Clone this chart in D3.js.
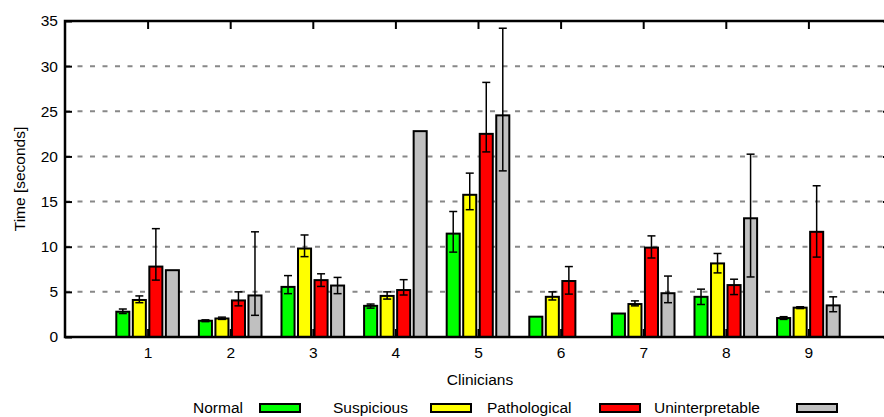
<!DOCTYPE html>
<html>
<head>
<meta charset="utf-8">
<script src="https://cdn.jsdelivr.net/npm/d3@7"></script>
<style>
  html, body { margin: 0; padding: 0; background: #fff; }
  svg { display: block; font-family: "Liberation Sans", Arial, sans-serif; }
</style>
</head>
<body>
<div id="chart"></div>
<script>
// Plot constants
const WIDTH = 884;
const HEIGHT = 417;
const FONT = "15.5px";

// Data
const clinicians = ["1", "2", "3", "4", "5", "6", "7", "8", "9"];
const categories = ["Normal", "Suspicious", "Pathological", "Uninterpretable"];
const colors = ["#00ff00", "#ffff00", "#ff0000", "#c0c0c0"];
const yTicks = [0, 5, 10, 15, 20, 25, 30, 35];

// mean time per clinician (null = no bar)
const normalMean = [2.8, 1.8, 5.55, 3.45, 11.45, 2.25, 2.6, 4.45, 2.1];
const suspiciousMean = [4.1, 2.05, 9.8, 4.55, 15.75, 4.45, 3.65, 8.15, 3.25];
const pathologicalMean = [7.8, 4.05, 6.3, 5.2, 22.5, 6.2, 9.9, 5.75, 11.65];
const uninterpretableMean = [7.4, 4.6, 5.7, 22.8, 24.55, null, 4.85, 13.15, 3.5];

// error bar ends (null = no error bar)
const normalLow = [2.6, 1.7, 4.8, 3.2, 9.4, null, null, 3.6, 1.95];
const normalHigh = [3.1, 1.9, 6.8, 3.65, 13.9, null, null, 5.3, 2.25];
const suspiciousLow = [3.8, 1.95, 8.9, 4.2, 14.1, 4.1, 3.45, 7.1, 3.15];
const suspiciousHigh = [4.55, 2.2, 11.3, 5.0, 18.15, 5.0, 4.0, 9.25, 3.35];
const pathologicalLow = [6.3, 3.45, 5.6, 4.65, 20.5, 4.75, 8.75, 4.7, 8.85];
const pathologicalHigh = [12.0, 5.0, 7.0, 6.35, 28.2, 7.8, 11.2, 6.4, 16.75];
const uninterpretableLow = [null, 2.4, 4.8, null, 18.4, null, 3.8, 6.65, 2.8];
const uninterpretableHigh = [null, 11.65, 6.6, null, 34.2, null, 6.75, 20.25, 4.45];

const means = [normalMean, suspiciousMean, pathologicalMean, uninterpretableMean];
const lows = [normalLow, suspiciousLow, pathologicalLow, uninterpretableLow];
const highs = [normalHigh, suspiciousHigh, pathologicalHigh, uninterpretableHigh];

// flat table of bars
const bars = [];
categories.forEach((cat, k) => {
  clinicians.forEach((c, i) => {
    if (means[k][i] === null) return;
    bars.push({
      k: k,
      pos: i + 1,
      value: means[k][i],
      low: lows[k][i],
      high: highs[k][i],
    });
  });
});

const mLeft = 65, mRight = 891, mTop = 21, mBottom = 337;
const barOffsets = [-0.3, -0.1, 0.1, 0.3];
const barWidth = 0.158;

const svg = d3.select("#chart").append("svg")
  .attr("width", WIDTH)
  .attr("height", HEIGHT);

svg.append("rect").attr("width", WIDTH).attr("height", HEIGHT).attr("fill", "#fff");

const x = d3.scaleLinear().domain([0, 10]).range([mLeft, mRight]);
const y = d3.scaleLinear().domain([0, 35]).range([mBottom, mTop]);

// grid lines
const grid = svg.append("g");
grid.selectAll("line")
  .data(yTicks.filter((d) => d > 0 && d < 35))
  .join("line")
  .attr("x1", mLeft)
  .attr("x2", mRight)
  .attr("y1", (d) => y(d))
  .attr("y2", (d) => y(d))
  .attr("stroke", "#888")
  .attr("stroke-width", 2)
  .attr("stroke-dasharray", "5,7.5");

// bottom axis (ticks point inwards, hidden behind bars)
const xAxis = svg.append("g")
  .attr("transform", `translate(0,${mBottom})`)
  .call(d3.axisBottom(x)
    .tickValues(clinicians.map((c, i) => i + 1))
    .tickFormat((d) => clinicians[d - 1])
    .tickSizeInner(-8)
    .tickSizeOuter(0)
    .tickPadding(10));

// bars
svg.append("g")
  .selectAll("rect")
  .data(bars)
  .join("rect")
  .attr("x", (d) => x(d.pos + barOffsets[d.k] - barWidth / 2))
  .attr("width", x(barWidth) - x(0))
  .attr("y", (d) => y(d.value))
  .attr("height", (d) => y(0) - y(d.value))
  .attr("fill", (d) => colors[d.k])
  .attr("stroke", "#000")
  .attr("stroke-width", 2);

// error bars
const errs = svg.append("g")
  .attr("stroke", "#000")
  .attr("stroke-width", 1.5)
  .selectAll("g")
  .data(bars.filter((d) => d.low !== null))
  .join("g");

errs.append("line")
  .attr("x1", (d) => x(d.pos + barOffsets[d.k]))
  .attr("x2", (d) => x(d.pos + barOffsets[d.k]))
  .attr("y1", (d) => y(d.low))
  .attr("y2", (d) => y(d.high));

errs.selectAll(".cap")
  .data((d) => [d.low, d.high].map((v) => ({ pos: d.pos + barOffsets[d.k], v: v })))
  .join("line")
  .attr("class", "cap")
  .attr("x1", (d) => x(d.pos) - 4)
  .attr("x2", (d) => x(d.pos) + 4)
  .attr("y1", (d) => y(d.v))
  .attr("y2", (d) => y(d.v));

// left axis with labels
const yAxis = svg.append("g")
  .attr("transform", `translate(${mLeft},0)`)
  .call(d3.axisLeft(y).tickValues(yTicks).tickSizeInner(-7).tickSizeOuter(0).tickPadding(7));

// mirrored ticks on top and right
const topAxis = svg.append("g")
  .attr("transform", `translate(0,${mTop})`)
  .call(d3.axisTop(x).tickValues(clinicians.map((c, i) => i + 1)).tickFormat("").tickSizeInner(-8).tickSizeOuter(0));
const rightAxis = svg.append("g")
  .attr("transform", `translate(${mRight},0)`)
  .call(d3.axisRight(y).tickValues(yTicks).tickFormat("").tickSizeInner(-8).tickSizeOuter(0));

[xAxis, yAxis, topAxis, rightAxis].forEach((a) => {
  a.select(".domain").remove();
  a.selectAll("line").attr("stroke", "#000").attr("stroke-width", 2);
  a.selectAll("text")
    .attr("fill", "#000")
    .style("font-size", FONT)
    .style("font-family", "'Liberation Sans', Arial, sans-serif");
});
// bottom ticks must stay behind the bars, grid further behind
xAxis.lower();
grid.lower();
svg.select("rect").lower();

// frame
svg.append("path")
  .attr("d", `M${mRight},${mTop}H${mLeft}V${mBottom}H${mRight}`)
  .attr("fill", "none")
  .attr("stroke", "#000")
  .attr("stroke-width", 2.5);

// axis titles
svg.append("text")
  .attr("transform", `translate(25,${(mTop + mBottom) / 2}) rotate(-90)`)
  .attr("text-anchor", "middle")
  .style("font-size", FONT)
  .text("Time [seconds]");

svg.append("text")
  .attr("x", 480)
  .attr("y", 385)
  .attr("text-anchor", "middle")
  .style("font-size", FONT)
  .text("Clinicians");

// legend
const legendText = [193, 333, 487, 654];
const legendBox = [260, 431, 600, 797];
const legend = svg.append("g")
  .selectAll("g")
  .data(categories)
  .join("g");

legend.append("text")
  .attr("x", (d, i) => legendText[i])
  .attr("y", 413)
  .style("font-size", FONT)
  .text((d) => d);

legend.append("rect")
  .attr("x", (d, i) => legendBox[i])
  .attr("y", 404)
  .attr("width", 40)
  .attr("height", 8)
  .attr("fill", (d, i) => colors[i])
  .attr("stroke", "#000")
  .attr("stroke-width", 2);
</script>
</body>
</html>
